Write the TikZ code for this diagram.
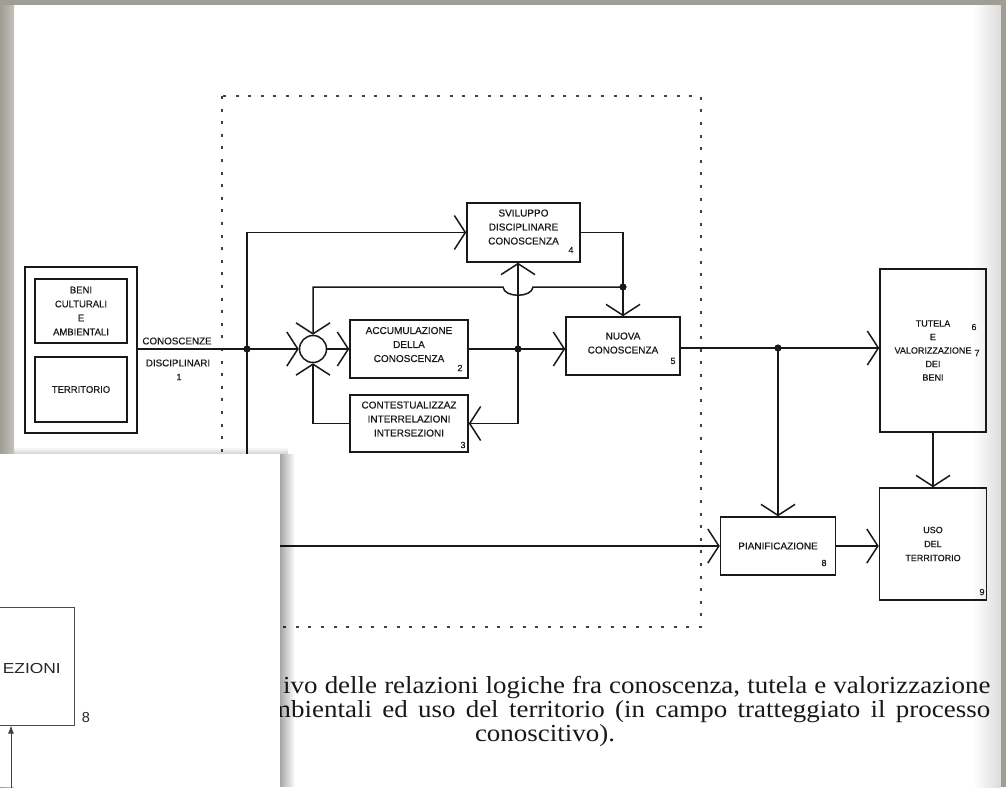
\documentclass[tikz,border=0pt]{standalone}
\usepackage{fontspec}
\setmainfont{Liberation Serif}
\newfontfamily\dsans[FakeBold=0.4]{Liberation Sans}
\newfontfamily\psans{Liberation Sans}
\usetikzlibrary{arrows.meta,calc,fadings}
\definecolor{frame}{RGB}{160,157,148}
\definecolor{framel}{RGB}{196,194,187}
\definecolor{ink}{RGB}{25,25,25}
\begin{document}
\begin{tikzpicture}[x=1pt,y=-1pt,
  ln/.style={line width=1.5pt, draw=ink},
  arr/.style={ln, -{Straight Barb[length=11pt,width=34pt,line width=1.5pt]}},
  box/.style={draw=ink, line width=1.5pt, align=center, inner sep=0pt, text=ink,
              font=\dsans\fontsize{10}{14}\selectfont},
  num/.style={font=\dsans\fontsize{9}{10}\selectfont, inner sep=0pt, text=ink},
  lbl/.style={font=\dsans\fontsize{9.8}{12}\selectfont, inner sep=0pt, text=ink},
  dotbox/.style={draw=black!75, line width=2.3pt, dash pattern=on 3pt off 9.6pt},
  captext/.style={font=\fontsize{24.5}{24}\selectfont, inner sep=0pt, text=black!90}]
\useasboundingbox (0,0) rectangle (1006,787);
% page and frame
\fill[white] (0,0) rectangle (1006,787);
\shade[left color=frame, right color=framel] (0,0) rectangle (14,787);
\fill[frame] (0,0) rectangle (1006,5);
\shade[left color=white, right color=black!14] (973,5) rectangle (1001,787);
\fill[frame] (1001,0) rectangle (1006,787);

% dotted field
\draw[dotbox] (222,96) rectangle (701,627);

% left block
\node[box, minimum width=112pt, minimum height=166pt] (outer) at (81,350) {};
\node[box, minimum width=92pt, minimum height=64pt, font=\dsans\fontsize{9.5}{14}\selectfont] (beni) at (81,311) {BENI\\CULTURALI\\E\\AMBIENTALI};
\node[box, minimum width=92pt, minimum height=65pt, font=\dsans\fontsize{9.5}{14}\selectfont] (terr) at (81,389.5) {TERRITORIO};
\node[lbl] (conA) at (177,341) {CONOSCENZE};
\node[lbl] (conB) at (178,363) {DISCIPLINARI};
\node[num] (n1) at (179,377) {1};

% process boxes
\node[box, minimum width=113pt, minimum height=59pt] (svil) at (523.5,232.5) {SVILUPPO\\DISCIPLINARE\\CONOSCENZA\\[-3pt]};
\node[box, minimum width=118pt, minimum height=58pt] (accu) at (409,349) {ACCUMULAZIONE\\DELLA\\CONOSCENZA\\[-5pt]};
\node[box, minimum width=118pt, minimum height=57pt] (cont) at (409,423.5) {CONTESTUALIZZAZ\\INTERRELAZIONI\\INTERSEZIONI\\[-5pt]};
\node[box, minimum width=114pt, minimum height=58pt] (nuova) at (623,346) {NUOVA\\CONOSCENZA\\[-8pt]};
\node[box, minimum width=106pt, minimum height=163pt, font=\dsans\fontsize{9}{13.5}\selectfont] (tutela) at (933,350.5) {TUTELA\\E\\VALORIZZAZIONE\\DEI\\BENI};
\node[box, minimum width=115pt, minimum height=58pt] (pian) at (778,546) {PIANIFICAZIONE};
\node[box, minimum width=107pt, minimum height=112pt, font=\dsans\fontsize{9}{14}\selectfont] (uso) at (933,544) {USO\\DEL\\TERRITORIO};
\node[draw=ink, line width=1.5pt, circle, minimum size=27pt, inner sep=0pt] (circ) at (313,349) {};

% numbers
\node[num] (n2) at (460,368) {2};
\node[num] (n3) at (463,445) {3};
\node[num] (n4) at (571,250) {4};
\node[num] (n5) at (673,361) {5};
\node[num] (n6) at (974,327) {6};
\node[num] (n7) at (977,353) {7};
\node[num] (n8) at (824,563) {8};
\node[num] (n9) at (982,592) {9};

% junctions
\coordinate (j1) at (247,349);
\coordinate (j2) at (518,349);
\coordinate (j3) at (778,348);
\coordinate (j4) at (623,287);

% connectors
\draw[ln] (j1 -| outer.east) -- (j1);
\draw[arr] (j1) -- (circ.west);
\draw[arr] (j1) |- (svil.west);
\draw[arr] (j1) |- (pian.west);
\draw[arr] (circ.east) -- (accu.west);
\draw[ln] (accu.east) -- (j2);
\draw[arr] (j2) -- (nuova.west |- j2);
\draw[arr] (j2) -- (j2 |- svil.south);
\draw[arr] (j2) |- (cont.east);
\draw[arr] (svil.east) -| (nuova.north);
\draw[arr] (j4) -- (533,287) .. controls (532,298) and (504,298) .. (503,287) -- (313,287) -- (circ.north);
\draw[arr] (cont.west) -| (circ.south);
\draw[ln] (nuova.east |- j3) -- (j3);
\draw[arr] (j3) -- (tutela.west |- j3);
\draw[arr] (j3) -- (pian.north);
\draw[arr] (tutela.south) -- (uso.north);
\draw[arr] (pian.east) -- (uso.west |- pian.east);

\fill[ink] (j1) circle (3.6);
\fill[ink] (j2) circle (3.6);
\fill[ink] (j3) circle (3.6);
\fill[ink] (j4) circle (3.6);

% caption
\node[captext, anchor=base west] (cap1) at (283,693) {\scalebox{1.1}[1]{\makebox[643pt][s]{ivo delle relazioni logiche fra conoscenza, tutela e valorizzazione}}};
\node[captext, anchor=base west] (cap2) at (270,717) {\scalebox{1.1}[1]{\makebox[654.5pt][s]{mbientali ed uso del territorio (in campo tratteggiato il processo}}};
\node[captext, anchor=base] (cap3) at (545,741) {\scalebox{1.1}[1]{conoscitivo).}};

% overlaid panel
\fill[black, fill opacity=0.18, path fading=north] (14,447) rectangle (288,454);
\fill[black, fill opacity=0.35, path fading=east] (280,454) rectangle (295,787);
\fill[white] (0,454) rectangle (280,787);
\node[draw=black!70, line width=1pt, minimum width=79pt, minimum height=118pt, inner sep=0pt] (pbox) at (34.5,666) {};
\node[font=\psans\fontsize{14.5}{16}\selectfont, anchor=east, inner sep=0pt, text=black!85] (pt) at (61,668) {\scalebox{1.2}[1]{EZIONI}};
\node[font=\psans\fontsize{14.5}{16}\selectfont, inner sep=0pt, text=black!85] (p8) at (86,717) {8};
\coordinate (pbot) at (11,790);
\draw[draw=black!75, line width=1pt, -{Latex[length=8pt,width=6pt]}] (pbot) -- (pbot |- pbox.south);
\end{tikzpicture}
\end{document}
